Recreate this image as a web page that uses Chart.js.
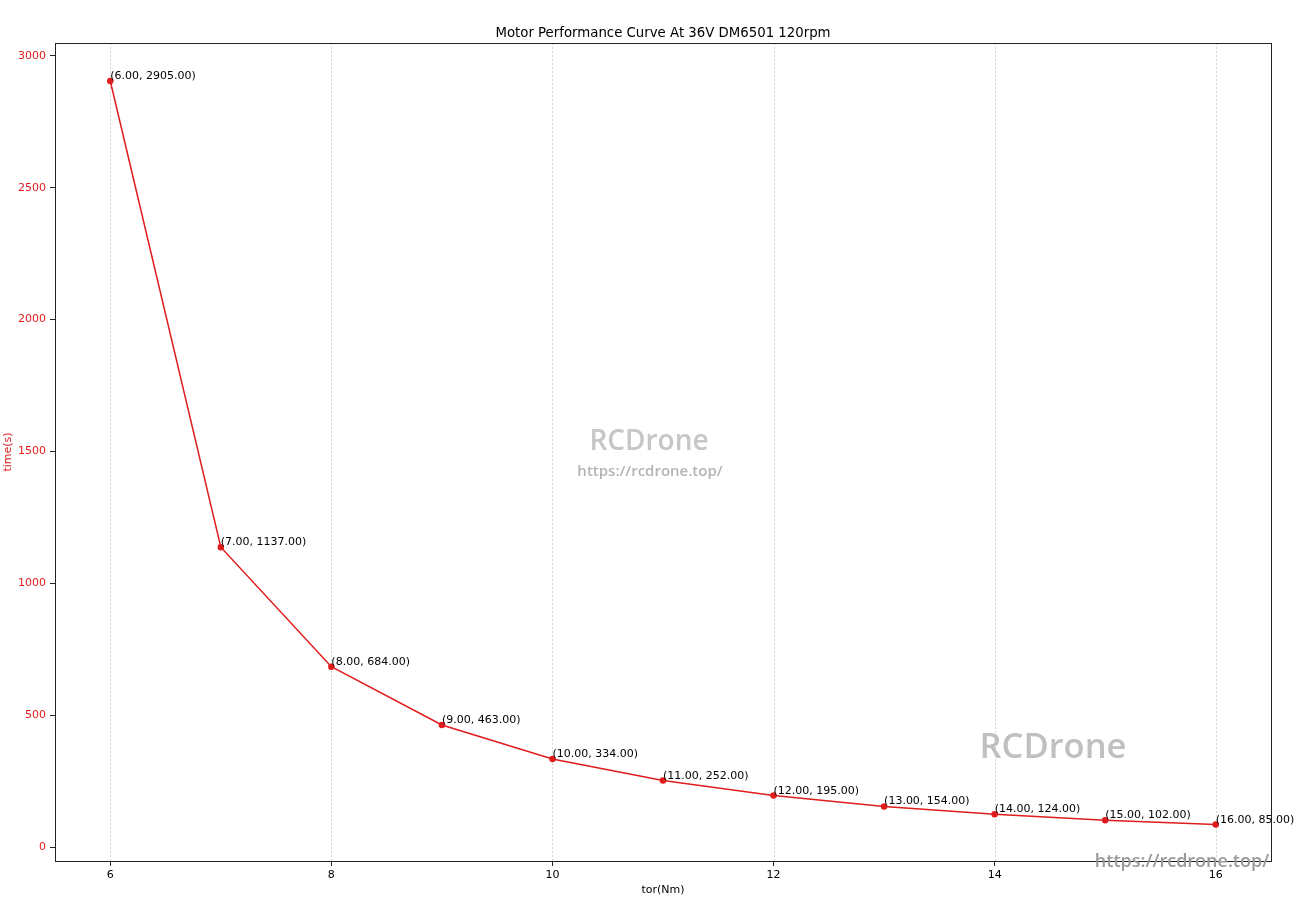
<!DOCTYPE html>
<html>
<head>
<meta charset="utf-8">
<script src="https://cdn.jsdelivr.net/npm/chart.js@4/dist/chart.umd.min.js"></script>
<style>
  body { margin: 0; background: #fff; }
  #wrap { width: 1300px; height: 907px; }
</style>
</head>
<body>
<div id="wrap"><canvas id="myChart"></canvas></div>
<script>
const torque = [6, 7, 8, 9, 10, 11, 12, 13, 14, 15, 16];
const time = [2905, 1137, 684, 463, 334, 252, 195, 154, 124, 102, 85];
const xTicks = [6, 8, 10, 12, 14, 16];
const yTicks = [0, 500, 1000, 1500, 2000, 2500, 3000];
const chartTitle = "Motor Performance Curve At 36V DM6501 120rpm";

const red = "#e01c1c";
const font = "'DejaVu Sans', sans-serif";

// dotted vertical grid + box around plot, like matplotlib
const frame = {
  id: "frame",
  beforeDatasetsDraw(chart) {
    const { ctx, chartArea, scales } = chart;
    ctx.save();
    ctx.strokeStyle = "#c8c8c8";
    ctx.lineWidth = 0.8;
    ctx.setLineDash([2, 2]);
    xTicks.forEach((v) => {
      const x = Math.round(scales.x.getPixelForValue(v)) + 0.5;
      ctx.beginPath();
      ctx.moveTo(x, chartArea.top);
      ctx.lineTo(x, chartArea.bottom);
      ctx.stroke();
    });
    ctx.restore();
  },
  afterDraw(chart) {
    const { ctx, chartArea } = chart;
    ctx.save();
    ctx.strokeStyle = "#222";
    ctx.lineWidth = 1;
    ctx.strokeRect(chartArea.left + 0.5, chartArea.top + 0.5,
      chartArea.right - chartArea.left, chartArea.bottom - chartArea.top);
    // title centred over the plot area
    ctx.fillStyle = "#000";
    ctx.font = "13.3px " + font;
    ctx.textAlign = "center";
    ctx.textBaseline = "middle";
    ctx.fillText(chartTitle, (chartArea.left + chartArea.right) / 2, chartArea.top - 9);
    ctx.restore();
  },
};

// "(x, y)" labels next to each point
const pointLabels = {
  id: "pointLabels",
  afterDatasetsDraw(chart) {
    const { ctx, scales } = chart;
    ctx.save();
    ctx.fillStyle = "#000";
    ctx.font = "11px " + font;
    ctx.textAlign = "left";
    ctx.textBaseline = "alphabetic";
    torque.forEach((t, i) => {
      const x = scales.x.getPixelForValue(t);
      const y = scales.y.getPixelForValue(time[i]);
      ctx.fillText(`(${t.toFixed(2)}, ${time[i].toFixed(2)})`, x, y - 2);
    });
    ctx.restore();
  },
};

// watermarks
const watermark = {
  id: "watermark",
  afterDraw(chart) {
    const { ctx } = chart;
    ctx.save();
    ctx.textAlign = "center";
    ctx.textBaseline = "middle";
    ctx.fillStyle = "#c6c6c6";
    ctx.font = "600 28px 'Open Sans', sans-serif";
    ctx.fillText("RCDrone", 649, 442);
    ctx.fillStyle = "#b4b4b4";
    ctx.font = "600 15px 'Open Sans', sans-serif";
    ctx.fillText("https://rcdrone.top/", 650, 472);
    ctx.fillStyle = "#c0c0c0";
    ctx.font = "600 34.5px 'Open Sans', sans-serif";
    ctx.fillText("RCDrone", 1053, 748);
    ctx.fillStyle = "#9a9a9a";
    ctx.font = "600 18px 'Open Sans', sans-serif";
    ctx.fillText("https://rcdrone.top/", 1182, 862);
    ctx.restore();
  },
};

new Chart(document.getElementById("myChart"), {
  type: "line",
  data: {
    datasets: [
      {
        data: torque.map((t, i) => ({ x: t, y: time[i] })),
        borderColor: red,
        backgroundColor: red,
        borderWidth: 1.5,
        pointRadius: 2.5,
        pointHoverRadius: 2.5,
        tension: 0,
      },
    ],
  },
  options: {
    responsive: true,
    maintainAspectRatio: false,
    animation: false,
    layout: { padding: { left: 0, right: 29, top: 43, bottom: 0 } },
    scales: {
      x: {
        type: "linear",
        min: 5.5,
        max: 16.5,
        afterBuildTicks: (s) => { s.ticks = xTicks.map((v) => ({ value: v })); },
        afterFit: (s) => { s.height = 46; },
        ticks: { color: "#000", font: { family: font, size: 11 }, padding: 3, callback: (v) => String(v) },
        grid: { drawOnChartArea: false, tickLength: 5, tickColor: "#222" },
        border: { display: false },
        title: {
          display: true,
          text: "tor(Nm)",
          color: "#000",
          font: { family: font, size: 11 },
          padding: { top: 0, bottom: 10 },
        },
      },
      y: {
        type: "linear",
        min: -53,
        max: 3049,
        afterBuildTicks: (s) => { s.ticks = yTicks.map((v) => ({ value: v })); },
        afterFit: (s) => { s.width = 55; },
        ticks: { color: red, font: { family: font, size: 11 }, padding: 4, callback: (v) => String(v) },
        grid: { drawOnChartArea: false, tickLength: 5, tickColor: "#222" },
        border: { display: false },
        title: {
          display: true,
          text: "time(s)",
          color: red,
          font: { family: font, size: 11 },
          padding: { top: 2, bottom: 0 },
        },
      },
    },
    plugins: {
      legend: { display: false },
      tooltip: { enabled: false },
      title: { display: false },
    },
  },
  plugins: [frame, pointLabels, watermark],
});
</script>
</body>
</html>
